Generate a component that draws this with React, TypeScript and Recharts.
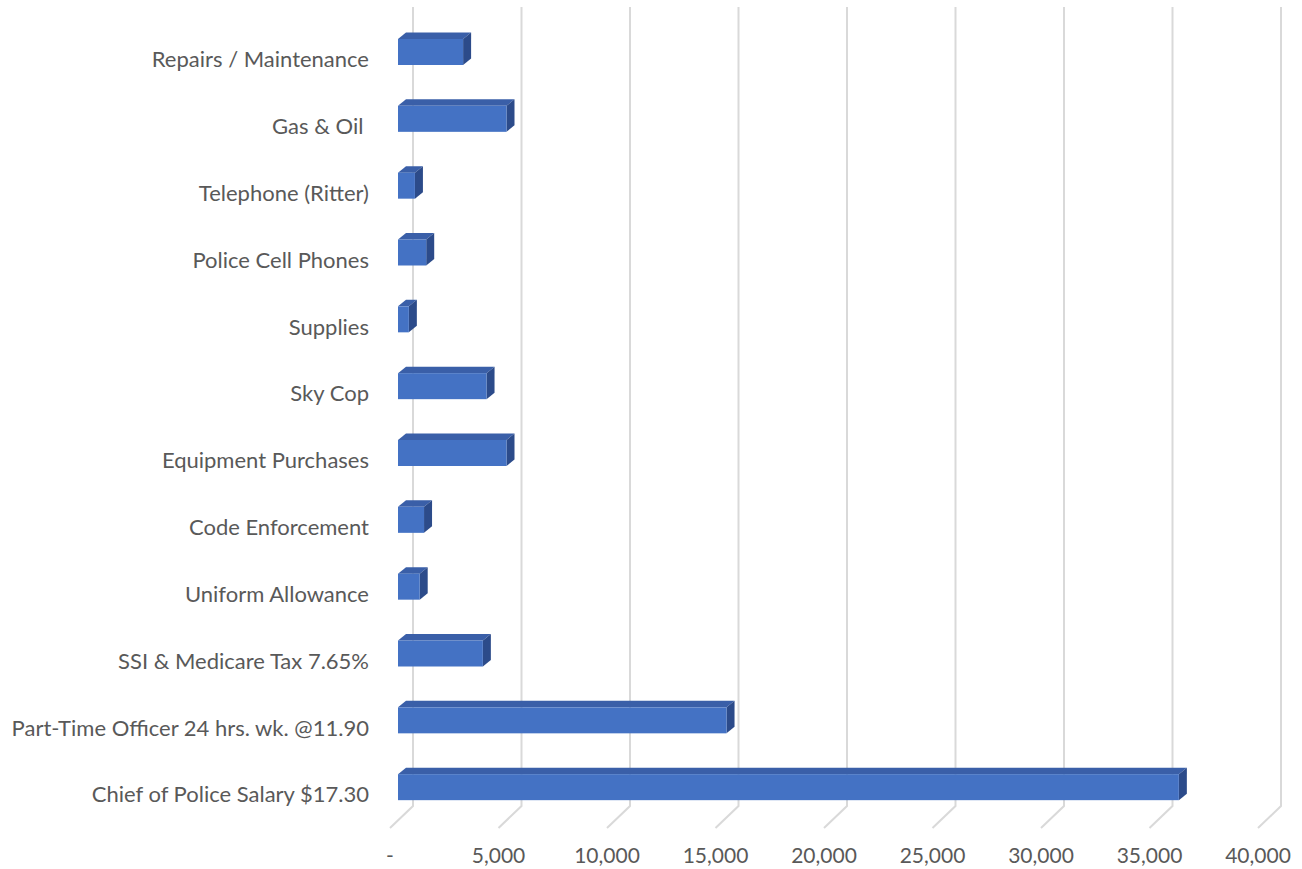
import { BarChart, Bar, XAxis, YAxis, CartesianGrid } from "recharts";

const categories = [
  "Repairs / Maintenance",
  "Gas & Oil\u00A0",
  "Telephone (Ritter)",
  "Police Cell Phones",
  "Supplies",
  "Sky Cop",
  "Equipment Purchases",
  "Code Enforcement",
  "Uniform Allowance",
  "SSI & Medicare Tax 7.65%",
  "Part-Time Officer 24 hrs. wk. @11.90",
  "Chief of Police Salary $17.30",
];

const amounts = [3000, 5000, 780, 1300, 500, 4080, 5000, 1200, 1000, 3911, 15140, 35984];

const xTicks = [0, 5000, 10000, 15000, 20000, 25000, 30000, 35000, 40000];

const data = categories.map((name, i) => ({ name, amount: amounts[i] }));

const FONT = "Lato, 'Open Sans', sans-serif";
const TEXT = "#595959";

// oblique depth of each bar box
const DX = 8;
const DY = 6.5;

function Bar3D(props: any) {
  const { x, y, width, height } = props;
  if (width == null || width <= 0) return null;
  const fy = y - 7;
  const r = x + width;
  const b = fy + height;
  return (
    <g>
      <polygon
        points={`${x},${fy} ${x + DX},${fy - DY} ${r + DX},${fy - DY} ${r},${fy}`}
        fill="#3a5fa8"
      />
      <polygon
        points={`${r},${fy} ${r + DX},${fy - DY} ${r + DX},${b - DY} ${r},${b}`}
        fill="#2c4b8a"
      />
      <rect x={x} y={fy} width={width} height={height} fill="#4472c4" />
    </g>
  );
}

// gridline sits on the back wall, then runs down the floor toward the front
function GridLine(props: any) {
  const { x1, y1, y2, index } = props;
  return (
    <path
      key={`g-${index}`}
      d={`M${x1 + 15},${y1 - 19} L${x1 + 15},${y2 - 22} L${x1 - 8},${y2}`}
      fill="none"
      stroke="#d9d9d9"
      strokeWidth={2}
    />
  );
}

function XTick(props: any) {
  const { x, y, payload } = props;
  const v = payload.value as number;
  const label = v === 0 ? "-" : v.toLocaleString("en-US");
  return (
    <text
      x={x - 8}
      y={y}
      dy="0.71em"
      textAnchor="middle"
      fill={TEXT}
      fontSize={21}
      fontFamily={FONT}
    >
      {label}
    </text>
  );
}

export default function App() {
  return (
    <div style={{ position: "absolute", left: 0, top: 0, background: "#fff" }}>
      <BarChart
        width={1302}
        height={869}
        data={data}
        layout="vertical"
        margin={{ top: 26, right: 36, left: 0, bottom: 0 }}
      >
        <CartesianGrid horizontal={false} vertical={GridLine} />
        <XAxis
          type="number"
          domain={[0, 40000]}
          ticks={xTicks}
          axisLine={false}
          tickLine={false}
          tickSize={0}
          tickMargin={20}
          height={41}
          tick={XTick}
        />
        <YAxis
          type="category"
          dataKey="name"
          width={398}
          axisLine={false}
          tickLine={false}
          tickSize={0}
          tickMargin={29}
          interval={0}
          tick={{ fill: TEXT, fontSize: 22, fontFamily: FONT }}
        />
        <Bar
          dataKey="amount"
          barSize={26}
          shape={Bar3D}
          isAnimationActive={false}
        />
      </BarChart>
    </div>
  );
}
